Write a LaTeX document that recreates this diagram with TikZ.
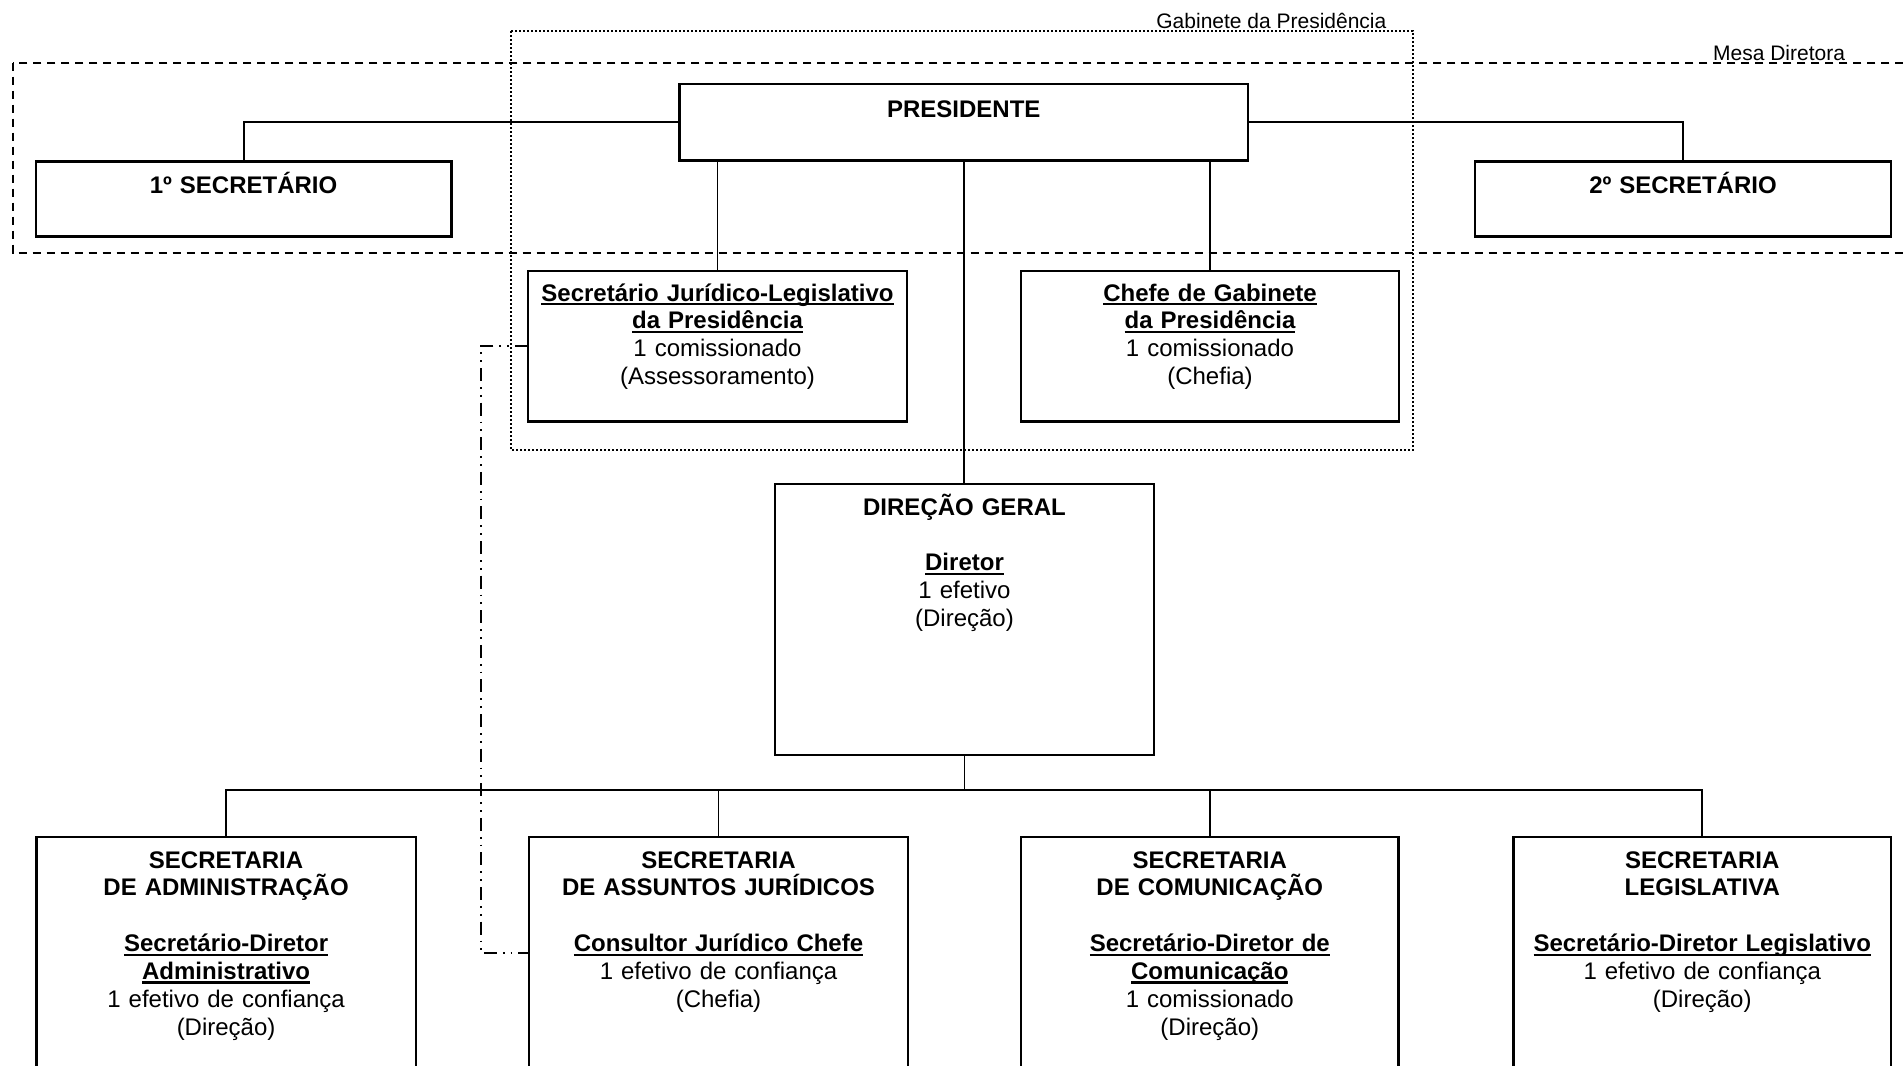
\documentclass[tikz,border=0pt]{standalone}
\usepackage{fontspec}
\setmainfont{Liberation Sans}
\newsavebox\myulbox
\newcommand\myul[1]{\leavevmode\sbox\myulbox{#1}\rlap{\rule[-2pt]{\wd\myulbox}{1.1pt}}\usebox\myulbox}
\begin{document}
\begin{tikzpicture}[x=0.5pt,y=-0.5pt,
  box/.style={draw, line width=1.2pt, inner sep=0pt, outer sep=0pt},
  txt/.style={anchor=base, inner sep=0pt, align=center, text width=186pt,
    font=\fontsize{12}{13.95}\selectfont},
  lbl/.style={inner sep=0pt, font=\fontsize{10.5}{12}\selectfont},
  conn/.style={line width=0.95pt},
  mesa/.style={line width=1pt, dash pattern=on 4.2pt off 2.8pt},
  gab/.style={line width=1pt, dash pattern=on 0.9pt off 1.1pt},
  ddot/.style={line width=0.9pt, dash pattern=on 6.5pt off 3pt on 0.9pt off 3pt on 0.9pt off 3pt}]
\useasboundingbox (0,0) rectangle (1903,1066);
\fill[white] (0,0) rectangle (1903,1066);
\clip (0,0) rectangle (1903,1066);

% group frames
\draw[mesa] (12.7,62.5) rectangle (1930,252.5);
\draw[gab] (511,31) rectangle (1413,450);
\node[lbl, anchor=base west] (gabL) at (1156,28.3) {Gabinete da Presidência};
\node[lbl, anchor=base west] (mesaL) at (1712.7,60.7) {Mesa Diretora};

% boxes
\node[box, minimum width=284.25pt, minimum height=38.25pt] (pres) at (963.75,122.25) {};
\node[box, minimum width=207.9pt, minimum height=37.5pt] (sec1) at (243.6,199) {};
\node[box, minimum width=208pt, minimum height=37.5pt] (sec2) at (1683,199) {};
\node[box, minimum width=189.5pt, minimum height=75.25pt] (jur) at (717.5,346.25) {};
\node[box, minimum width=189pt, minimum height=75.25pt] (chefe) at (1210,346.25) {};
\node[box, minimum width=189.25pt, minimum height=135.5pt] (dir) at (964.5,619.5) {};
\node[box, minimum width=189.7pt, minimum height=116pt] (adm) at (226.1,953) {};
\node[box, minimum width=189.5pt, minimum height=116pt] (jur2) at (718.5,953) {};
\node[box, minimum width=188.8pt, minimum height=116pt] (com) at (1209.8,953) {};
\node[box, minimum width=188.75pt, minimum height=116pt] (leg) at (1702.25,953) {};

% texts
\node[txt] (presT) at (963.75,117) {\bfseries PRESIDENTE};
\node[txt] (sec1T) at (243.6,193) {\bfseries 1º SECRETÁRIO};
\node[txt] (sec2T) at (1683,193) {\bfseries 2º SECRETÁRIO};
\node[txt] (jurT) at (717.5,301) {\bfseries\myul{Secretário Jurídico-Legislativo}\\\myul{da Presidência}\\\mdseries 1 comissionado\\(Assessoramento)};
\node[txt] (chefeT) at (1210,301) {\bfseries\myul{Chefe de Gabinete}\\\myul{da Presidência}\\\mdseries 1 comissionado\\(Chefia)};
\node[txt] (dirT) at (964.5,515) {\bfseries DIREÇÃO GERAL\\\strut\\\myul{Diretor}\\\mdseries 1 efetivo\\(Direção)};
\node[txt] (admT) at (226.1,868) {\bfseries SECRETARIA\\DE ADMINISTRAÇÃO\\\strut\\\myul{Secretário-Diretor}\\\myul{Administrativo}\\\mdseries 1 efetivo de confiança\\(Direção)};
\node[txt] (jur2T) at (718.5,868) {\bfseries SECRETARIA\\DE ASSUNTOS JURÍDICOS\\\strut\\\myul{Consultor Jurídico Chefe}\\\mdseries 1 efetivo de confiança\\(Chefia)};
\node[txt] (comT) at (1209.8,868) {\bfseries SECRETARIA\\DE COMUNICAÇÃO\\\strut\\\myul{Secretário-Diretor de}\\\myul{Comunicação}\\\mdseries 1 comissionado\\(Direção)};
\node[txt] (legT) at (1702.25,868) {\bfseries SECRETARIA\\LEGISLATIVA\\\strut\\\myul{Secretário-Diretor Legislativo}\\\mdseries 1 efetivo de confiança\\(Direção)};

% connectors
\draw[conn] (pres.west) -| (sec1.north);
\draw[conn] (pres.east) -| (sec2.north);
\draw[conn] (pres.south -| jur.north) -- (jur.north);
\draw[conn] (pres.south -| chefe.north) -- (chefe.north);
\draw[conn] (pres.south) -- (pres.south |- dir.north);
\coordinate (bus) at (964.5,790);
\draw[conn] (dir.south) -- (bus);
\draw[conn] (adm.north) -- (adm.north |- bus) -- (leg.north |- bus) -- (leg.north);
\draw[conn] (jur2.north) -- (jur2.north |- bus);
\draw[conn] (com.north) -- (com.north |- bus);
\coordinate (dd) at (480.6,346.25);
\draw[ddot] (jur.west) -- (dd) |- (jur2.west);
\end{tikzpicture}
\end{document}
